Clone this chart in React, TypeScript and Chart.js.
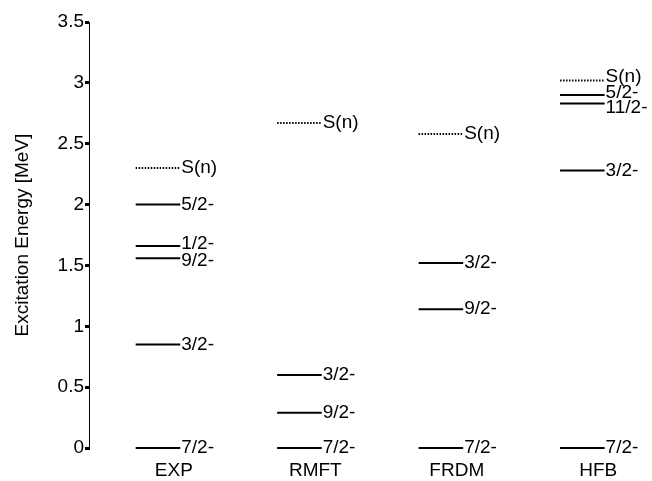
import React, { useEffect, useRef } from "react";
import { Chart, registerables } from "chart.js";

Chart.register(...registerables);

// Calculation methods shown along the x axis
const categories = ["EXP", "RMFT", "FRDM", "HFB"];

// Level energies (MeV) and spin-parity labels, per method
const expEnergies = [0, 0.85, 1.56, 1.66, 2.0];
const expSpins = ["7/2-", "3/2-", "9/2-", "1/2-", "5/2-"];
const rmftEnergies = [0, 0.29, 0.6];
const rmftSpins = ["7/2-", "9/2-", "3/2-"];
const frdmEnergies = [0, 1.14, 1.52];
const frdmSpins = ["7/2-", "9/2-", "3/2-"];
const hfbEnergies = [0, 2.28, 2.83, 2.9];
const hfbSpins = ["7/2-", "3/2-", "11/2-", "5/2-"];

// One-neutron separation energies S(n), per method
const separationEnergies = [2.3, 2.67, 2.58, 3.02];

// y-axis ticks
const yTicks = [0, 0.5, 1, 1.5, 2, 2.5, 3, 3.5];

const levelEnergies = [expEnergies, rmftEnergies, frdmEnergies, hfbEnergies];
const levelSpins = [expSpins, rmftSpins, frdmSpins, hfbSpins];

// small vertical nudges (px) for labels of closely spaced levels
const labelNudge: Record<string, number> = {
  "0:1/2-": -2,
  "0:9/2-": 3,
  "3:S(n)": -4,
  "3:5/2-": -2,
  "3:11/2-": 4,
};

const FONT = "'Liberation Sans', Arial, Helvetica, sans-serif";
const FONT_SIZE = 19;
const LINE_FROM = -0.27;
const LINE_TO = 0.045;

export default function App() {
  const canvasRef = useRef<HTMLCanvasElement | null>(null);

  useEffect(() => {
    const canvas = canvasRef.current;
    if (!canvas) return;

    const datasets: any[] = [];
    const labels: { x: number; y: number; text: string; nudge: number }[] = [];

    levelEnergies.forEach((energies, i) => {
      energies.forEach((e, j) => {
        const spin = levelSpins[i][j];
        datasets.push({
          data: [
            { x: i + LINE_FROM, y: e },
            { x: i + LINE_TO, y: e },
          ],
          borderColor: "#000",
          borderWidth: 2,
          pointRadius: 0,
          showLine: true,
          clip: false,
        });
        labels.push({ x: i + LINE_TO, y: e, text: spin, nudge: labelNudge[`${i}:${spin}`] || 0 });
      });
      const sn = separationEnergies[i];
      datasets.push({
        data: [
          { x: i + LINE_FROM, y: sn },
          { x: i + LINE_TO, y: sn },
        ],
        borderColor: "#000",
        borderWidth: 2,
        borderDash: [1.5, 1.5],
        pointRadius: 0,
        showLine: true,
        clip: false,
      });
      labels.push({ x: i + LINE_TO, y: sn, text: "S(n)", nudge: labelNudge[`${i}:S(n)`] || 0 });
    });

    const levelLabels = {
      id: "levelLabels",
      afterDatasetsDraw(chart: any) {
        const { ctx, scales } = chart;
        ctx.save();
        ctx.fillStyle = "#000";
        ctx.font = `${FONT_SIZE}px ${FONT}`;
        ctx.textAlign = "left";
        ctx.textBaseline = "middle";
        labels.forEach((l) => {
          const px = scales.x.getPixelForValue(l.x) + 1;
          const py = scales.y.getPixelForValue(l.y) + l.nudge;
          ctx.fillText(l.text, px, py);
        });
        ctx.restore();
      },
    };

    const chart = new Chart(canvas, {
      type: "scatter",
      data: { datasets },
      options: {
        animation: false,
        responsive: false,
        events: [],
        layout: { padding: { top: 22, right: 0, bottom: 0, left: 0 } },
        plugins: {
          legend: { display: false },
          tooltip: { enabled: false },
        },
        scales: {
          x: {
            type: "linear",
            min: -0.6,
            max: 3.38,
            afterBuildTicks: (scale: any) => {
              scale.ticks = categories.map((_, i) => ({ value: i }));
            },
            afterFit: (scale: any) => {
              scale.height = 33;
            },
            ticks: {
              autoSkip: false,
              maxRotation: 0,
              color: "#000",
              font: { family: FONT, size: FONT_SIZE },
              padding: 11,
              callback: (v: any) => categories[v as number] ?? "",
            },
            grid: { display: false, drawTicks: false },
            border: { display: false },
          },
          y: {
            type: "linear",
            min: 0,
            max: 3.5,
            afterBuildTicks: (scale: any) => {
              scale.ticks = yTicks.map((v) => ({ value: v }));
            },
            afterFit: (scale: any) => {
              scale.width = 89;
            },
            ticks: {
              color: "#000",
              font: { family: FONT, size: FONT_SIZE },
              padding: 1,
              callback: (v: any) => String(v),
            },
            grid: {
              drawOnChartArea: false,
              drawTicks: true,
              tickLength: 4,
              lineWidth: 3,
              color: "#000",
            },
            border: { display: true, color: "#000", width: 1, dash: [1, 1] },
            title: {
              display: true,
              text: "Excitation Energy [MeV]",
              color: "#000",
              font: { family: FONT, size: FONT_SIZE },
              padding: { top: 11, bottom: 0 },
            },
          },
        },
      },
      plugins: [levelLabels],
    });

    return () => chart.destroy();
  }, []);

  return (
    <div style={{ position: "fixed", left: 0, top: 0, width: 652, height: 481, background: "#fff" }}>
      <canvas ref={canvasRef} width={652} height={481} style={{ display: "block" }} />
    </div>
  );
}
